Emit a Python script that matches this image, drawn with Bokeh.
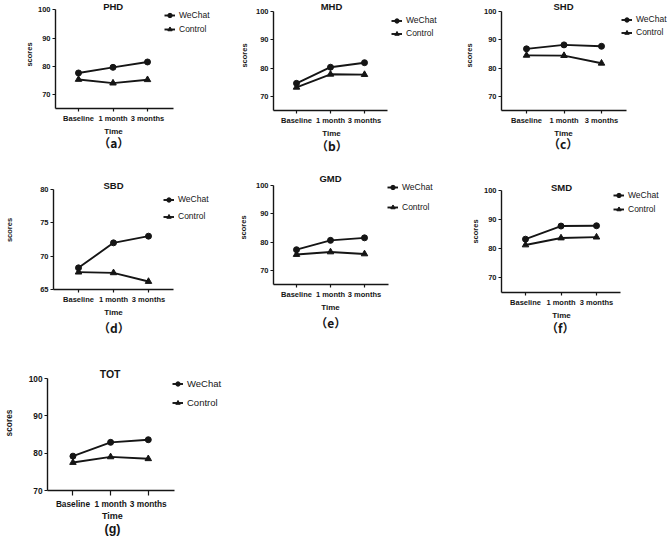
from bokeh.plotting import figure
from bokeh.models import Range1d, FixedTicker, Legend, LegendItem, Title, Label
from bokeh.layouts import row, column
from bokeh.embed import file_html
from bokeh.resources import INLINE

# ---------------- data ----------------
time_points = ["Baseline", "1 month", "3 months"]
group_names = ["WeChat", "Control"]
panel_titles = ["PHD", "MHD", "SHD", "SBD", "GMD", "SMD", "TOT"]
panel_letters = ["（a）", "（b）", "（c）", "（d）", "（e）", "（f）", "(g)"]
x_axis_title = "Time"
y_axis_title = "scores"

phd_wechat = [77.6, 79.6, 81.5]
phd_control = [75.3, 74.0, 75.2]
mhd_wechat = [74.6, 80.3, 81.9]
mhd_control = [73.2, 77.8, 77.7]
shd_wechat = [86.8, 88.2, 87.7]
shd_control = [84.5, 84.4, 81.7]
sbd_wechat = [68.25, 72.0, 73.0]
sbd_control = [67.6, 67.5, 66.2]
gmd_wechat = [77.3, 80.6, 81.5]
gmd_control = [75.6, 76.5, 75.8]
smd_wechat = [83.3, 87.8, 87.9]
smd_control = [81.3, 83.7, 84.0]
tot_wechat = [79.2, 82.9, 83.6]
tot_control = [77.5, 79.0, 78.5]

y_range_main = (65, 100)
y_range_sbd = (65, 80)
y_range_tot = (70, 100)
y_ticks_main = [70, 80, 90, 100]
y_ticks_sbd = [65, 70, 75, 80]

# ---------------- layout (page pixel geometry) ----------------
FONT = "Liberation Sans"
CJK = "Noto Sans CJK SC"
INK = "#151515"

# approximate advance widths (em) for centring texts in "below" panels
BOLD_W = {"T": .611, "i": .278, "m": .889, "e": .556, "(": .333, ")": .333, "g": .611,
          "a": .556, "（": 1.0, "）": 1.0}


def text_w(s, px):
    return sum(BOLD_W.get(c, .58) for c in s) * px


# fig: (left, top, width, height); frame: (L, R, T, B) = axis extents
# cats: first/last category pixel x; leg: (glyph left x, item1 y, item2 y)
# ttl_c: title centre (x, y); sub_x: centre x of "Time" and letter
base = dict(ttl=9.5, tick=7.5, lab=8, leg_fs=8.5, sub=12, tick_out=3, tick_so=2, time_so=-2)
layouts = [
    dict(base, fig=(0, 0, 225, 168), mbb=60, frame=(55, 173, 9.3, 108), cats=(78, 147),
         leg=(164, 15.7, 29.3), ttl_c=(112.7, 5.5), sub_x=113, ystd=1, sub_so=-5),
    dict(base, fig=(225, 0, 215, 170), mbb=60, frame=(273, 387, 11, 110), cats=(296, 364),
         leg=(391, 20, 33), ttl_c=(331, 5.5), sub_x=331, ystd=4, sub_so=-3),
    dict(base, fig=(440, 0, 229, 170), mbb=60, frame=(501, 626, 11, 110), cats=(526, 601),
         leg=(621, 19, 32), ttl_c=(563, 5.5), sub_x=563, ystd=7, sub_so=-7),
    dict(base, fig=(0, 170, 225, 182), mbb=63, frame=(53, 173, 189, 289), cats=(78, 148),
         leg=(163, 199, 216), ttl_c=(113, 185), sub_x=113, ystd=23, sub_so=2),
    dict(base, fig=(225, 170, 215, 177), mbb=63, frame=(273, 388, 185, 284), cats=(296, 364),
         leg=(387, 187, 207), ttl_c=(330, 178), sub_x=330, ystd=5, sub_so=3),
    dict(base, fig=(440, 170, 229, 185), mbb=63, frame=(501, 620, 190, 292), cats=(525, 596),
         leg=(613, 195.7, 209.3), ttl_c=(561, 186.7), sub_x=561, ystd=1, sub_so=-4),
    dict(base, fig=(0, 355, 320, 182), mbb=47, frame=(41, 171, 378, 490), cats=(67, 144),
         leg=(166, 383, 402), ttl_c=(105, 373.3), sub_x=106, ystd=12, sub_so=4,
         ttl=10.5, tick=8.3, lab=9, leg_fs=9.5, sub=12.5, tick_out=5, tick_so=3, time_so=-6),
]

series = [
    (phd_wechat, phd_control, y_range_main, y_ticks_main),
    (mhd_wechat, mhd_control, y_range_main, y_ticks_main),
    (shd_wechat, shd_control, y_range_main, y_ticks_main),
    (sbd_wechat, sbd_control, y_range_sbd, y_ticks_sbd),
    (gmd_wechat, gmd_control, y_range_main, y_ticks_main),
    (smd_wechat, smd_control, y_range_main, y_ticks_main),
    (tot_wechat, tot_control, y_range_tot, y_ticks_main),
]


def make_panel(title, letter, wechat, control, yr, yticks, lay):
    fl, ft, fw, fh = lay["fig"]
    L, R, T, B = lay["frame"]
    c0, c2 = lay["cats"]
    n = len(time_points)
    step = (c2 - c0) / (n - 1)
    x0 = -(c0 - L) / step
    x1 = (n - 1) + (R - c2) / step
    # the plotting frame reaches the figure's right and top edges, so that the
    # title and legend (drawn inside it) are not clipped; axes keep their bounds
    frame_right = fl + fw
    frame_top = ft
    x_end = x0 + (x1 - x0) * (frame_right - L) / (R - L)
    y_end = yr[0] + (yr[1] - yr[0]) * (B - frame_top) / (B - T)
    idx = list(range(n))

    p = figure(width=fw, height=fh, output_backend="svg", toolbar_location=None, title=None,
               x_range=Range1d(x0, x_end), y_range=Range1d(yr[0], y_end),
               min_border_left=int(round(L - fl)), min_border_right=0,
               min_border_top=0, min_border_bottom=lay["mbb"])
    p.outline_line_color = None
    p.xgrid.visible = False
    p.ygrid.visible = False
    p.background_fill_color = "white"
    p.border_fill_color = "white"

    for ax in (p.xaxis[0], p.yaxis[0]):
        ax.axis_line_width = 1.4
        ax.axis_line_color = INK
        ax.major_tick_line_color = INK
        ax.major_tick_line_width = 1.2
        ax.major_tick_in = 0
        ax.major_tick_out = 3
        ax.minor_tick_line_color = None
        ax.major_label_text_font = FONT
        ax.major_label_text_font_style = "bold"
        ax.major_label_text_font_size = f"{lay['tick']}px"
        ax.major_label_text_color = INK
        ax.major_label_standoff = 2
        ax.axis_label_text_font = FONT
        ax.axis_label_text_font_style = "bold"
        ax.axis_label_text_color = INK

    p.xaxis.ticker = FixedTicker(ticks=idx)
    p.xaxis.major_label_overrides = {i: t for i, t in zip(idx, time_points)}
    p.xaxis.bounds = (x0, x1)
    p.xaxis.major_tick_out = lay["tick_out"]
    p.xaxis.major_label_standoff = lay["tick_so"]

    p.yaxis.ticker = FixedTicker(ticks=yticks)
    p.yaxis.bounds = (yr[0], yr[1])
    p.yaxis.axis_label = y_axis_title
    p.yaxis.axis_label_text_font_size = f"{lay['tick']}px"
    p.yaxis.axis_label_standoff = lay["ystd"]

    lw = 1.9
    l1 = p.line(idx, wechat, line_color=INK, line_width=lw)
    s1 = p.scatter(idx, wechat, marker="circle", size=6, fill_color=INK, line_color=INK)
    l2 = p.line(idx, control, line_color=INK, line_width=lw)
    s2 = p.scatter(idx, control, marker="triangle", size=6.5, fill_color=INK, line_color=INK)

    gl, y1, y2 = lay["leg"]
    pitch = y2 - y1
    legend = Legend(items=[LegendItem(label=group_names[0], renderers=[l1, s1]),
                           LegendItem(label=group_names[1], renderers=[l2, s2])],
                    location=(gl - L, B - (y2 + pitch / 2)),
                    glyph_width=11, glyph_height=int(round(pitch)), label_height=int(round(pitch)),
                    spacing=0, padding=0, margin=0, label_standoff=4,
                    border_line_color=None, background_fill_alpha=0,
                    label_text_font=FONT, label_text_font_size=f"{lay['leg_fs']}px",
                    label_text_color=INK)
    p.add_layout(legend, "center")

    # panel title, centred above the axes
    tcx, tcy = lay["ttl_c"]
    p.add_layout(Label(x=(x0 + x1) / 2, y=yr[1], x_offset=tcx - (L + R) / 2, y_offset=T - tcy,
                       text=title, text_align="center", text_baseline="middle",
                       text_font=FONT, text_font_style="bold", text_font_size=f"{lay['ttl']}px",
                       text_color=INK))

    # x axis title and panel letter, below the axis
    sx = lay["sub_x"]
    tw = text_w(x_axis_title, lay["lab"])
    p.add_layout(Title(text=x_axis_title, align="left", offset=sx - L - tw / 2,
                       text_font=FONT, text_font_style="bold", text_font_size=f"{lay['lab']}px",
                       text_color=INK, standoff=lay["time_so"]), "below")
    lw_ = text_w(letter, lay["sub"])
    p.add_layout(Title(text=letter, align="left", offset=sx - L - lw_ / 2,
                       text_font=CJK if "（" in letter else FONT, text_font_style="bold",
                       text_font_size=f"{lay['sub']}px", text_color=INK,
                       standoff=lay["sub_so"]), "below")
    return p


figs = [make_panel(t, l, s[0], s[1], s[2], s[3], lay)
        for t, l, s, lay in zip(panel_titles, panel_letters, series, layouts)]

page = column(
    row(figs[0], figs[1], figs[2], spacing=0),
    row(figs[3], figs[4], figs[5], spacing=0),
    row(figs[6], spacing=0),
    spacing=0,
)

open("out.html", "w").write(file_html(page, INLINE))
